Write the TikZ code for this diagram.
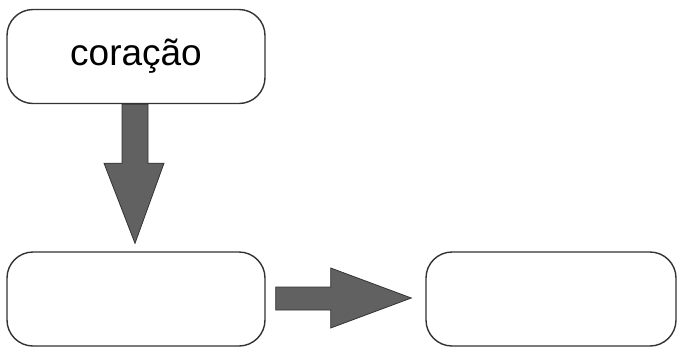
\documentclass[tikz,border=0pt]{standalone}
\usepackage{fontspec}
\setmainfont{Liberation Sans}
\usetikzlibrary{calc}
\begin{document}
\begin{tikzpicture}[x=1pt,y=-1pt,
  box/.style={draw=black!80,line width=1.4pt,rounded corners=26pt,fill=white,
    minimum width=258pt,minimum height=94pt,inner sep=0pt,
    font=\fontsize{37}{40}\selectfont},
  bigarrow/.style={draw=black!80,line width=0.8pt,fill=black!62}]
\useasboundingbox (0,0) rectangle (678,349);
\node[box] (top) at (136,56.5) {coração};
\node[box] (left) at (136,299) {};
\node[box,minimum width=250pt] (right) at (551,299) {};
% down arrow from top box toward left box
\draw[bigarrow] ($(top.south)+(-14,0)$) -- ($(top.south)+(12,0)$) -- ($(top.south)+(12,59)$)
  -- ($(top.south)+(28,59)$) -- ($(left.north)+(-1,-8)$) -- ($(top.south)+(-32,59)$)
  -- ($(top.south)+(-14,59)$) -- cycle;
% right arrow from left box toward right box
\draw[bigarrow] ($(left.east)+(10,-12)$) -- ($(left.east)+(65,-12)$) -- ($(left.east)+(65,-31)$)
  -- ($(right.west)+(-14,-1)$) -- ($(left.east)+(65,29)$) -- ($(left.east)+(65,11)$)
  -- ($(left.east)+(10,11)$) -- cycle;
\end{tikzpicture}
\end{document}
